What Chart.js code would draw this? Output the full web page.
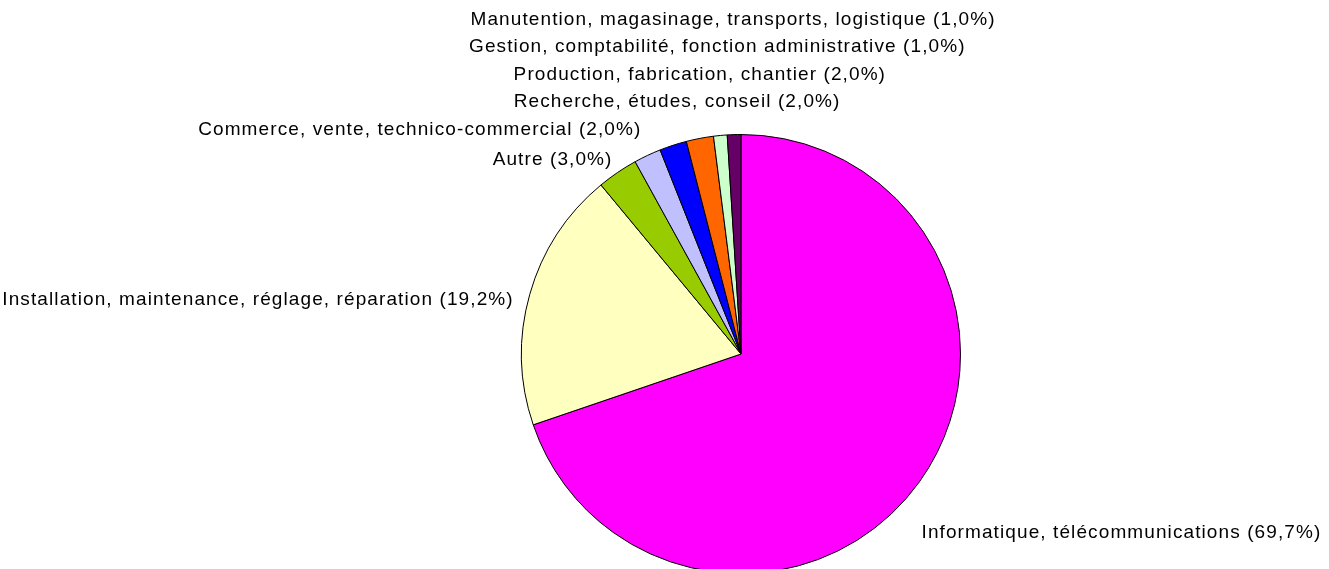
<!DOCTYPE html>
<html>
<head>
<meta charset="utf-8">
<script src="https://cdn.jsdelivr.net/npm/chart.js@4"></script>
<style>
  html, body { margin: 0; padding: 0; background: #fff; overflow: hidden; }
  #wrap { position: relative; width: 1329px; height: 580px; }
</style>
</head>
<body>
<div id="wrap"><canvas id="myChart"></canvas></div>
<script>
// data
var categories = [
  "Informatique, télécommunications",
  "Installation, maintenance, réglage, réparation",
  "Autre",
  "Commerce, vente, technico-commercial",
  "Recherche, études, conseil",
  "Production, fabrication, chantier",
  "Gestion, comptabilité, fonction administrative",
  "Manutention, magasinage, transports, logistique"
];
var percents = [69.7, 19.2, 3.0, 2.0, 2.0, 2.0, 1.0, 1.0];
var sliceColors = ["#FF00FF", "#FFFFC0", "#99CC00", "#C0C0FF", "#0000FF", "#FF6600", "#CCFFCC", "#660066"];

// label placement relative to the middle of each slice's outer edge
var labelPlacement = [
  { align: "left", dx: 2, dy: 51 },
  { align: "right", dx: -16, dy: 5 },
  { align: "right", dx: -5, dy: -13 },
  { align: "right", dx: -6, dy: -26 },
  { align: "center", dx: 4, dy: -43 },
  { align: "center", dx: 0, dy: -64 },
  { align: "center", dx: -3, dy: -89 },
  { align: "center", dx: -1, dy: -115 }
];

var sliceLabels = {
  id: "sliceLabels",
  afterDatasetsDraw: function (chart) {
    var ctx = chart.ctx;
    var meta = chart.getDatasetMeta(0);
    ctx.save();
    ctx.font = "19px 'Liberation Sans', Arial, sans-serif";
    ctx.letterSpacing = "1.1px";
    ctx.fillStyle = "#000";
    ctx.textBaseline = "middle";
    meta.data.forEach(function (arc, i) {
      var mid = (arc.startAngle + arc.endAngle) / 2;
      var x = arc.x + Math.cos(mid) * arc.outerRadius;
      var y = arc.y + Math.sin(mid) * arc.outerRadius;
      var p = labelPlacement[i];
      ctx.textAlign = p.align;
      var txt = categories[i] + " (" + percents[i].toFixed(1).replace(".", ",") + "%)";
      ctx.fillText(txt, x + p.dx, y + p.dy);
    });
    ctx.restore();
  }
};

var config = {
  type: "pie",
  data: {
    labels: categories,
    datasets: [{
      data: percents,
      backgroundColor: sliceColors,
      borderColor: "#000",
      borderWidth: 1
    }]
  },
  options: {
    responsive: true,
    maintainAspectRatio: false,
    animation: false,
    layout: { padding: { top: 134, bottom: 6, left: 521, right: 368 } },
    plugins: {
      legend: { display: false },
      tooltip: { enabled: false }
    }
  },
  plugins: [sliceLabels]
};

var myChart = new Chart(document.getElementById("myChart"), config);
</script>
</body>
</html>
